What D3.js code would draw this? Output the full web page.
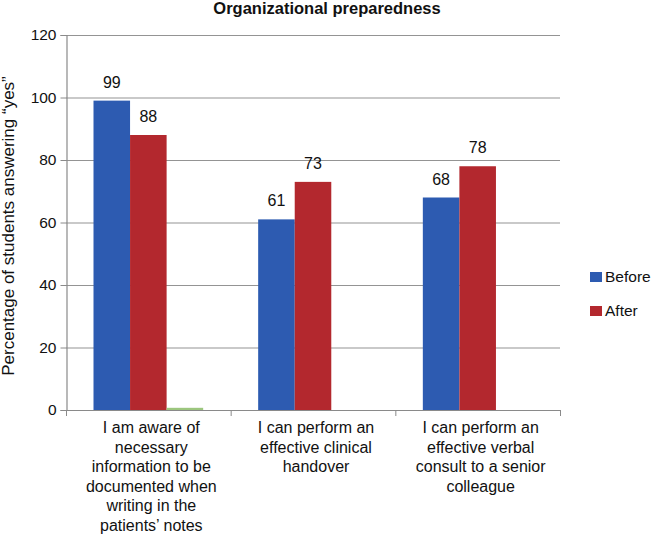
<!DOCTYPE html>
<html><head><meta charset="utf-8">
<script src="https://cdn.jsdelivr.net/npm/d3@7"></script>
<style>body{margin:0;background:#fff;} text{font-family:"Liberation Sans",Arial,sans-serif;}</style>
</head><body>
<svg id="c" width="654" height="537"></svg>
<script>
const categories = [
  ["I am aware of","necessary","information to be","documented when","writing in the","patients\u2019 notes"],
  ["I can perform an","effective clinical","handover"],
  ["I can perform an","effective verbal","consult to a senior","colleague"]
];
const seriesNames = ["Before","After","Other"];
const beforeValues = [99, 61, 68];
const afterValues = [88, 73, 78];
const otherValues = [0.7, 0, 0];
const yTicks = [0,20,40,60,80,100,120];
const colors = ["#2d5bb1","#b3282e","#9cc67e"];
const legendNames = ["Before","After"];
const title = "Organizational preparedness";
const yLabel = "Percentage of students answering \u201cyes\u201d";

(function(){
const seriesValues = [beforeValues, afterValues, otherValues];
const svg = d3.select("#c");
const mLeft = 66, mRight = 560, mTop = 35, mBottom = 410;

const x0 = d3.scaleBand().domain(d3.range(categories.length)).range([mLeft, mRight]).padding(0);
const x1 = d3.scaleBand().domain(d3.range(seriesNames.length)).range([27.5, x0.bandwidth()-27.5]).padding(0);
const y = d3.scaleLinear().domain([0,120]).range([mBottom, mTop]);

// gridlines
svg.append("g").selectAll("line").data(yTicks.filter(d=>d>0)).join("line")
  .attr("x1", mLeft).attr("x2", mRight).attr("y1", d=>y(d)+0.5).attr("y2", d=>y(d)+0.5)
  .attr("stroke", "#949494").attr("stroke-width", 1.2);

// bars
const groups = svg.append("g").selectAll("g").data(categories).join("g")
  .attr("transform", (d,i)=>`translate(${x0(i)},0)`);
groups.selectAll("rect").data((d,i)=>seriesValues.map((s,j)=>({j, v:s[i]}))).join("rect")
  .attr("x", d=>x1(d.j)).attr("width", x1.bandwidth())
  .attr("y", d=>y(d.v)).attr("height", d=>mBottom - y(d.v))
  .attr("fill", d=>colors[d.j]);

// value labels (Before, After)
groups.selectAll("text.v").data((d,i)=>[0,1].map(j=>({j, v:seriesValues[j][i]}))).join("text")
  .attr("class","v")
  .attr("x", d=>x1(d.j)+x1.bandwidth()/2).attr("y", d=>y(d.v)-13)
  .attr("text-anchor","middle").attr("font-size", 16).attr("fill","#111")
  .text(d=>d.v);

// y axis
const yAxis = d3.axisLeft(y).tickValues(yTicks).tickSize(6).tickPadding(4);
const ya = svg.append("g").attr("transform", `translate(${mLeft+0.5},0)`).call(yAxis);
ya.select(".domain").attr("stroke","#8a8a8a").attr("stroke-width",1.2);
ya.selectAll(".tick line").attr("stroke","#8a8a8a");
ya.selectAll(".tick text").attr("font-size",15.5).attr("fill","#111").attr("font-family","Liberation Sans, Arial, sans-serif");

// x axis
svg.append("line").attr("x1", mLeft).attr("x2", mRight).attr("y1", mBottom+0.5).attr("y2", mBottom+0.5)
  .attr("stroke","#8a8a8a").attr("stroke-width",1.2);
const bounds = d3.range(categories.length+1).map(i=> i<categories.length ? x0(i) : mRight);
svg.append("g").selectAll("line").data(bounds).join("line")
  .attr("x1", d=>d+0.5).attr("x2", d=>d+0.5).attr("y1", mBottom).attr("y2", mBottom+6)
  .attr("stroke","#8a8a8a");

// category labels
const cl = svg.append("g").selectAll("text").data(categories).join("text")
  .attr("text-anchor","middle").attr("font-size",16).attr("fill","#111")
  .attr("x", (d,i)=>x0(i)+x0.bandwidth()/2+3).attr("y", 433);
cl.selectAll("tspan").data(d=>d).join("tspan")
  .attr("x", function(){ return d3.select(this.parentNode).attr("x"); })
  .attr("dy", (d,i)=> i===0 ? 0 : 19.6).text(d=>d);

// title
svg.append("text").attr("x", 327).attr("y", 14).attr("text-anchor","middle")
  .attr("font-size",16.5).attr("font-weight","bold").attr("fill","#111").text(title);

// y label
svg.append("text").attr("transform", `translate(14,226) rotate(-90)`)
  .attr("text-anchor","middle").attr("font-size",17).attr("fill","#111").text(yLabel);

// legend
const lg = svg.append("g").selectAll("g").data(legendNames).join("g")
  .attr("transform", (d,i)=>`translate(590,${272 + i*34})`);
lg.append("rect").attr("width",12).attr("height",10).attr("fill",(d,i)=>colors[i]);
lg.append("text").attr("x",15).attr("y",10).attr("font-size",15.5).attr("fill","#111").text(d=>d);
})();
</script>
</body></html>
